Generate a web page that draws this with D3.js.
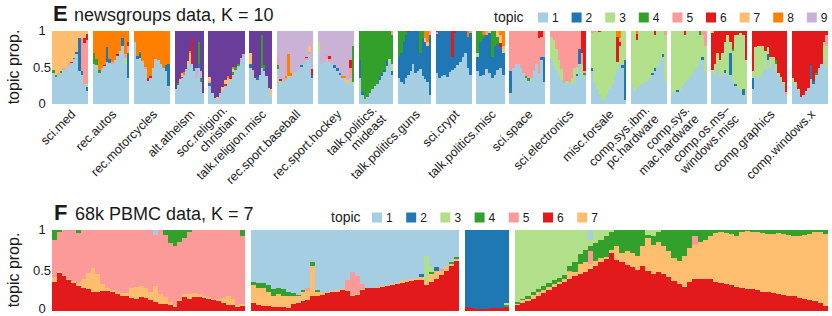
<!DOCTYPE html>
<html>
<head>
<meta charset="utf-8">
<script src="https://cdn.jsdelivr.net/npm/d3@7"></script>
<style>
body { margin: 0; background: #fff; }
text { font-family: "Liberation Sans", Arial, Helvetica, sans-serif; fill: #1a1a1a; }
</style>
</head>
<body>
<script>
// topic colours (colorbrewer "Paired", topic 1..10)
var topicColors = ["#a6cee3", "#1f78b4", "#b2df8a", "#33a02c", "#fb9a99", "#e31a1c", "#fdbf6f", "#ff7f00", "#cab2d6", "#6a3d9a"];

// ---------- E: newsgroups data, K = 10 ----------
var newsGroups = ["sci.med", "rec.autos", "rec.motorcycles", "alt.atheism", "soc.religion.\nchristian",
  "talk.religion.misc", "rec.sport.baseball", "rec.sport.hockey", "talk.politics.\nmideast", "talk.politics.guns",
  "sci.crypt", "talk.politics.misc", "sci.space", "sci.electronics", "misc.forsale",
  "comp.sys.ibm.\npc.hardware", "comp.sys.\nmac.hardware", "comp.os.ms\u2013\nwindows.misc", "comp.graphics", "comp.windows.x"];
var newsDocs = [396, 396, 398, 319, 398, 251, 397, 399, 376, 364, 396, 310, 394, 393, 390, 392, 385, 394, 389, 395];
// topic that fills what is left of each document bar
var newsMain = [7, 8, 8, 10, 10, 10, 9, 9, 4, 2, 2, 2, 5, 5, 3, 3, 3, 3, 6, 6];
// topic 1 proportion, documents binned left to right
var newsTopic1 = [
  [.42, .37, .40, .43, .47, .49, .53, .56, .61, .68, .45, .40, .28, .18],
  [.55, .50, .43, .47, .52, .58, .56, .55, .60, .66, .72, .80, .55, .35],
  [.85, .62, .63, .57, .48, .32, .36, .50, .62, .60, .55, .50, .45, .25],
  [.20, .26, .30, .35, .40, .45, .52, .58, .55, .45, .35, .50, .30, .15],
  [.25, .15, .08, .06, .12, .18, .24, .28, .34, .40, .46, .52, .58, .65],
  [.50, .42, .35, .33, .40, .50, .45, .38, .22, .10],
  [.45, .28, .30, .33, .36, .38, .40, .44, .47, .51, .55, .60, .68, .35],
  [.70, .55, .58, .62, .58, .55, .50, .45, .40, .36, .32, .27, .35, .25],
  [.35, .12, .07, .10, .15, .20, .24, .28, .33, .38, .44, .52, .58, .40],
  [.35, .30, .28, .35, .40, .45, .55, .42, .45, .48, .38, .34, .30, .12],
  [.42, .36, .38, .40, .37, .44, .47, .50, .53, .58, .64, .70, .50, .40],
  [.45, .38, .40, .48, .42, .35, .40, .46, .50, .40],
  [.15, .50, .55, .55, .50, .42, .35, .30, .36, .45, .55, .42, .60, .30],
  [.62, .52, .46, .40, .33, .29, .26, .30, .26, .30, .38, .55, .35, .40],
  [.45, .30, .20, .12, .07, .06, .12, .20, .28, .38, .48, .55, .50, .05],
  [.28, .18, .20, .24, .27, .30, .32, .36, .40, .45, .52, .60, .65, .30],
  [.15, .15, .16, .18, .24, .29, .33, .37, .41, .46, .51, .57, .60, .42],
  [.42, .38, .48, .38, .40, .42, .38, .40, .32, .25, .22, .18, .12, .08],
  [.20, .38, .34, .38, .42, .48, .60, .50, .55, .45, .38, .32, .26, .12],
  [.30, .25, .18, .10, .12, .18, .22, .34, .28, .40, .50, .55, .60, .50]
];
// other topics: topic -> {bin: proportion}
var newsOther = [
  {2: {9: .03, 10: .45, 11: .05, 13: .05}, 3: {13: .05}, 4: {0: .05, 1: .03, 3: .02, 8: .02}, 5: {2: .03, 4: .02, 6: .03, 11: .45, 12: .55, 13: .6}, 6: {7: .02, 12: .08, 13: .08}},
  {2: {5: .2, 6: .05, 11: .1, 13: .35}, 3: {1: .03, 12: .08}, 4: {0: .15, 1: .08, 2: .03}, 5: {3: .03, 7: .02, 12: .05, 13: .1}, 6: {4: .02, 9: .02, 13: .05}},
  {2: {1: .04, 2: .05, 12: .08, 13: .3}, 4: {2: .03}, 5: {2: .02, 4: .03}, 6: {5: .04, 6: .02}, 7: {3: .02}},
  {2: {9: .05, 11: .05}, 3: {6: .02}, 4: {1: .03, 11: .3, 12: .05}, 5: {5: .03}, 6: {3: .02, 8: .35}, 7: {2: .04, 3: .05, 6: .05, 7: .12}, 8: {4: .04, 7: .03}, 9: {10: .15, 12: .1}},
  {2: {0: .04}, 4: {9: .04, 10: .05, 11: .03}, 5: {0: .03}, 6: {6: .03, 8: .04}, 7: {0: .05, 3: .03, 5: .05, 6: .06, 7: .08, 9: .04}, 8: {7: .03, 9: .03}, 9: {4: .03, 12: .05, 13: .04}},
  {2: {0: .05, 3: .04, 6: .03}, 4: {5: .45, 6: .05}, 6: {2: .02}, 7: {0: .15, 1: .03, 9: .1}, 9: {1: .02}},
  {2: {9: .02, 13: .05}, 3: {0: .03, 1: .03, 4: .02}, 4: {0: .05}, 5: {0: .1, 3: .02, 11: .03, 12: .03}, 6: {1: .03, 11: .02, 13: .08}, 7: {6: .02, 12: .08}, 8: {3: .03, 4: .3, 5: .04}},
  {2: {6: .03, 7: .05, 8: .03}, 3: {0: .15, 13: .05}, 4: {13: .5}, 5: {3: .05, 4: .03, 12: .15}, 6: {4: .05, 12: .1}, 7: {10: .03, 11: .06}, 8: {9: .03, 10: .04}},
  {2: {0: .25, 1: .05, 8: .04, 9: .05, 10: .03, 11: .08, 13: .05}, 3: {12: .03, 13: .1}, 5: {13: .05}},
  {4: {0: .35, 1: .3, 2: .15, 3: .05, 9: .3, 10: .1}, 5: {13: .05}, 6: {4: .02}, 7: {11: .05, 12: .05}, 8: {11: .1, 12: .15}},
  {5: {0: .02, 13: .03}, 6: {0: .02, 6: .35, 7: .03}, 8: {12: .08}},
  {3: {0: .05, 4: .03}, 4: {0: .3, 1: .15, 2: .05, 5: .35, 6: .2, 7: .1}, 5: {3: .05}, 6: {8: .05}, 7: {7: .08, 8: .12, 9: .1}, 8: {2: .05, 8: .05, 9: .2}},
  {2: {0: .3, 12: .05, 13: .35}, 3: {7: .02}, 4: {6: .03, 7: .04}, 6: {11: .1, 12: .08}, 7: {10: .02}},
  {2: {10: .03, 11: .2}, 3: {0: .3, 1: .35, 2: .3, 3: .2, 4: .15, 6: .05, 8: .1, 9: .2, 10: .1, 12: .2}, 4: {13: .03}, 6: {12: .3, 13: .55}},
  {2: {0: .05, 12: .03, 13: .55}, 5: {0: .03, 1: .02}, 6: {3: .02, 10: .35, 11: .05}, 7: {11: .05}, 8: {10: .08, 11: .1}},
  {2: {8: .03, 9: .04, 12: .04}, 5: {13: .05}, 6: {2: .08, 9: .06}, 8: {2: .04}},
  {2: {2: .03, 12: .05}, 4: {11: .05}, 5: {12: .05, 13: .2}, 6: {5: .05}},
  {2: {5: .05, 7: .3, 9: .03, 12: .08}, 4: {8: .03}, 6: {0: .5, 1: .45, 2: .3, 3: .4, 4: .3, 5: .15, 6: .05, 7: .15, 8: .25, 9: .05, 10: .05, 11: .03, 12: .05, 13: .4}, 7: {0: .03}},
  {2: {0: .15, 6: .08}, 3: {0: .1, 1: .4, 2: .45, 3: .42, 4: .38, 5: .25, 6: .1, 7: .15, 8: .1, 9: .1, 10: .05, 11: .05, 12: .04}, 4: {9: .05}, 5: {13: .04}},
  {2: {7: .2, 8: .03}, 3: {0: .05, 1: .05, 2: .03, 12: .25, 13: .3}, 4: {9: .03}, 5: {13: .15}}
];
var newsLegend = [1, 2, 3, 4, 5, 6, 7, 8, 9];

// ---------- F: 68k PBMC data, K = 7 ----------
var pbmcCells = [17460, 18820, 3980, 28320];
var pbmcMain = [5, 1, 2, 7];
// topic 6 proportion, cells binned left to right
var pbmcTopic6 = [
  [.36, .47, .43, .38, .35, .31, .29, .27, .23, .24, .25, .25, .23, .21, .19, .18, .16, .15, .17, .16,
   .13, .11, .09, .09, .07, .05, .12, .17, .15, .17, .17, .16, .15, .13, .12, .10, .08, .07, .05, .06],
  [.10, .08, .06, .06, .05, .05, .05, .04, .09, .10, .12, .13, .18, .19, .20, .22, .23, .24, .26, .25,
   .19, .20, .26, .28, .28, .29, .30, .31, .32, .33, .35, .36, .37, .38, .38, .32, .36, .40, .44, .50, .55, .62],
  [.05, .04, .03, .03, .03, .04, .04, .04, .05],
  [.07, .10, .12, .15, .18, .22, .26, .30, .33, .36, .40, .43, .46, .48, .52, .56, .60, .64, .72, .63,
   .60, .57, .54, .51, .55, .50, .46, .48, .46, .42, .37, .33, .30, .36, .40, .40, .39, .39, .36, .35,
   .33, .32, .30, .28, .27, .27, .26, .24, .23, .22, .21, .20, .19, .18, .16, .15, .14, .12, .10, .06]
];
var pbmcOther = [
  {7: [.06, .02, .02, .02, .02, .03, .10, .20, .30, .22, .08, .04, .03, .03, .03, .04, .12, .15, .14, .13,
       .10, .20, .12, .08, .04, .03, .03, .04, .06, .05, .04, .03, .02, .02, .03, .06, .10, .08, .03, .03],
   4: {0: .12, 1: .02, 5: .04, 23: .06, 24: .16, 25: .20, 26: .15, 27: .10, 28: .03, 39: .07},
   1: {21: .06}},
  {7: [.22, .20, .22, .18, .14, .16, .14, .14, .10, .08, .12, .12, .38, .05, .03, .02, .02, .02, .01, .01,
       .01, .01, .01, .01, .01, .01, .01, .01, .01, .02, .03, .02, .02, .03, .04, .06, .10, .10, .06, .05, .03, .02],
   5: {11: .04, 19: .12, 20: .28, 21: .22, 22: .06, 38: .02},
   4: {0: .04, 1: .06, 2: .07, 3: .08, 4: .08, 5: .07, 6: .08, 7: .06, 8: .03, 9: .02, 10: .02, 12: .04, 13: .02, 36: .02, 40: .02, 41: .03},
   3: {35: .3, 36: .06},
   2: {34: .04, 37: .04}},
  {3: {8: .03}, 4: {8: .02}},
  {3: {0: .89, 1: .85, 2: .81, 3: .77, 4: .73, 5: .69, 6: .65, 7: .62, 8: .59, 9: .55, 10: .45, 11: .40, 12: .30,
       13: .25, 14: .08, 15: .16, 16: .12, 17: .08, 18: .02, 25: .06, 26: .08, 27: .02},
   4: [.02, .02, .04, .03, .04, .05, .05, .05, .05, .06, .05, .12, .12, .15, .06, .22, .22, .25, .23, .20,
       .28, .26, .28, .32, .20, .04, .10, .13, .20, .26, .34, .38, .32, .22, .08, .15, .12, .07, .04, .03,
       .04, .05, .07, .03, .01, .02, .02, .04, .05, .05, .04, .05, .06, .07, .07, .06, .05, .03, .03, .05],
   5: {10: .02, 14: .16, 34: .10},
   1: {14: .12}}
];
var pbmcLegend = [1, 2, 3, 4, 5, 6, 7];

var width = 832, height = 316;
var svg = d3.select("body").append("svg").attr("width", width).attr("height", height);

// build stacked segments for one panel
function stackPanel(base, baseTopic, other, main, order) {
  return base.map(function(b, i) {
    var vals = {};
    order.forEach(function(t) {
      if (t === baseTopic) vals[t] = b;
      else if (t !== main) vals[t] = (other[t] && other[t][i]) || 0;
    });
    var used = d3.sum(Object.values(vals));
    vals[main] = Math.max(0, 1 - used);
    var y0 = 0;
    return order.map(function(t) {
      var seg = {topic: t, y0: Math.min(1, y0), y1: Math.min(1, y0 + vals[t])};
      y0 += vals[t];
      return seg;
    });
  });
}

function drawSection(o) {
  var total = d3.sum(o.counts) + o.gap * (o.counts.length - 1);
  var x = d3.scaleLinear().domain([0, total]).range([52, 828]);
  var y = d3.scaleLinear().domain([0, 1]).range([o.y0, o.y1]);
  var starts = [], acc = 0;
  o.counts.forEach(function(c) { starts.push(acc); acc += c + o.gap; });

  var g = svg.append("g").attr("shape-rendering", "crispEdges");
  o.counts.forEach(function(c, p) {
    var bars = stackPanel(o.base[p], o.baseTopic, o.other[p], o.main[p], o.order);
    var n = bars.length;
    var pg = g.append("g");
    bars.forEach(function(segs, i) {
      var xa = x(starts[p] + c * i / n), xb = x(starts[p] + c * (i + 1) / n);
      pg.selectAll(null).data(segs.filter(function(s) { return s.y1 > s.y0; }))
        .enter().append("rect")
        .attr("x", xa)
        .attr("width", xb - xa + (i < n - 1 ? 0.5 : 0))
        .attr("y", function(s) { return y(s.y1); })
        .attr("height", function(s) { return y(s.y0) - y(s.y1) + 0.5; })
        .attr("fill", function(s) { return topicColors[s.topic - 1]; });
    });
  });

  // y axis: labels only
  var ax = svg.append("g").attr("transform", "translate(48,0)")
    .call(d3.axisLeft(y).tickValues([0, 0.5, 1]).tickSize(0).tickPadding(6).tickFormat(d3.format("")));
  ax.select(".domain").remove();
  ax.selectAll("text").attr("text-anchor", "middle").style("font-size", "13px")
    .style("font-family", "Liberation Sans, Arial, sans-serif").attr("fill", "#1a1a1a");
  // keep the bottom label inside the page
  if (o.lowLabelShift) ax.selectAll("text").filter(function(d) { return d === 0; })
    .attr("y", -o.lowLabelShift);

  svg.append("text")
    .attr("transform", "translate(19," + ((o.y0 + o.y1) / 2) + ") rotate(-90)")
    .attr("text-anchor", "middle").style("font-size", "16px").text("topic prop.");

  // title
  svg.append("text").attr("x", o.titleX).attr("y", o.titleY)
    .style("font-size", "22px").style("font-weight", "bold").text(o.letter);
  svg.append("text").attr("x", o.titleX + 21).attr("y", o.titleY)
    .style("font-size", "18px").text(o.title);

  // legend
  var lg = svg.append("g");
  lg.append("text").attr("x", o.legendX).attr("y", o.legendY)
    .style("font-size", "14px").text("topic");
  o.legend.forEach(function(t, k) {
    var lx = o.legendX + o.legendOff + k * o.legendStep;
    lg.append("rect").attr("x", lx).attr("y", o.legendY - 9.5).attr("width", 10).attr("height", 10)
      .attr("fill", topicColors[t - 1]);
    lg.append("text").attr("x", lx + 14).attr("y", o.legendY).style("font-size", "12px").text(t);
  });

  return {x: x, starts: starts};
}

var e = drawSection({
  counts: newsDocs, gap: 49, base: newsTopic1, baseTopic: 1, other: newsOther, main: newsMain,
  order: [1, 2, 3, 4, 5, 6, 7, 8, 9, 10], y0: 103.5, y1: 30.5,
  letter: "E", title: "newsgroups data, K = 10", titleX: 53, titleY: 21,
  legend: newsLegend, legendX: 494, legendY: 22, legendOff: 44, legendStep: 33.6
});

// category labels, rotated
newsGroups.forEach(function(name, p) {
  var cx = e.x(e.starts[p] + newsDocs[p] / 2);
  var lines = name.split("\n");
  var t = svg.append("text")
    .attr("transform", "translate(" + (cx + 3) + ",112) rotate(-45)")
    .attr("text-anchor", "end").style("font-size", "12.5px");
  lines.forEach(function(l, i) {
    t.append("tspan").attr("x", 0).attr("y", 0)
      .attr("dy", (0.35 + (i - (lines.length - 1) / 2) * 1.05) + "em").text(l);
  });
});

drawSection({
  counts: pbmcCells, gap: 543, base: pbmcTopic6, baseTopic: 6, other: pbmcOther, main: pbmcMain,
  order: [6, 7, 5, 4, 3, 2, 1], y0: 310.5, y1: 229.5, lowLabelShift: 2.5,
  letter: "F", title: "68k PBMC data, K = 7", titleX: 54, titleY: 220,
  legend: pbmcLegend, legendX: 331, legendY: 222, legendOff: 41, legendStep: 34.2
});
</script>
</body>
</html>
